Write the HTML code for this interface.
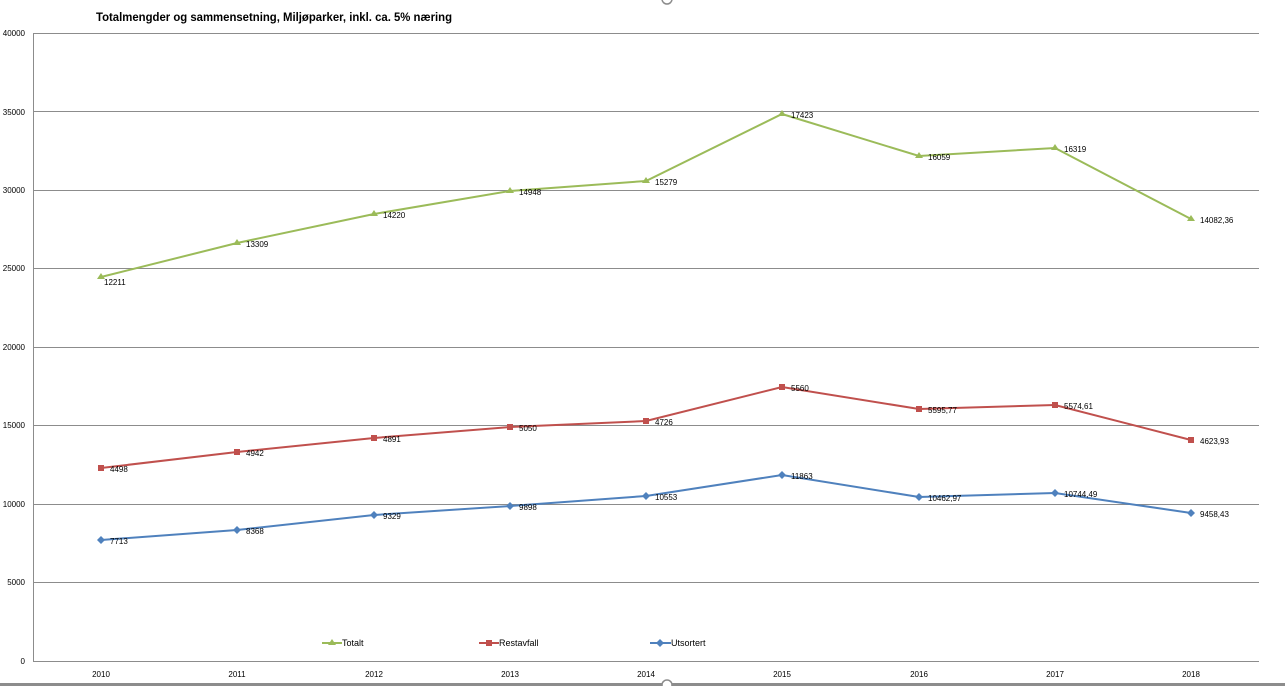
<!DOCTYPE html>
<html><head><meta charset="utf-8"><style>body{margin:0;background:#fff}svg{display:block}text{font-family:"Liberation Sans",sans-serif}</style></head><body>
<svg width="1285" height="686" viewBox="0 0 1285 686">
<text x="96" y="21" font-size="11.5" font-weight="bold" fill="#000" textLength="356" lengthAdjust="spacingAndGlyphs">Totalmengder og sammensetning, Miljøparker, inkl. ca. 5% næring</text>
<g stroke="#8c8c8c" stroke-width="1">
<line x1="33" y1="33.5" x2="1259" y2="33.5"/><line x1="33" y1="111.5" x2="1259" y2="111.5"/><line x1="33" y1="190.5" x2="1259" y2="190.5"/><line x1="33" y1="268.5" x2="1259" y2="268.5"/><line x1="33" y1="347.5" x2="1259" y2="347.5"/><line x1="33" y1="425.5" x2="1259" y2="425.5"/><line x1="33" y1="504.5" x2="1259" y2="504.5"/><line x1="33" y1="582.5" x2="1259" y2="582.5"/><line x1="33" y1="661.5" x2="1259" y2="661.5"/><line x1="33.5" y1="33" x2="33.5" y2="661"/>
</g>
<g font-size="8" fill="#000" text-anchor="end">
<text x="25" y="36">40000</text><text x="25" y="115">35000</text><text x="25" y="193">30000</text><text x="25" y="271">25000</text><text x="25" y="350">20000</text><text x="25" y="428">15000</text><text x="25" y="507">10000</text><text x="25" y="585">5000</text><text x="25" y="664">0</text>
</g>
<g font-size="8" fill="#000" text-anchor="middle">
<text x="101" y="677">2010</text><text x="237" y="677">2011</text><text x="374" y="677">2012</text><text x="510" y="677">2013</text><text x="646" y="677">2014</text><text x="782" y="677">2015</text><text x="919" y="677">2016</text><text x="1055" y="677">2017</text><text x="1191" y="677">2018</text>
</g>
<polyline fill="none" stroke="#9bbb59" stroke-width="2" points="101,277 237,243 374,214 510,191 646,181 782,114 919,156 1055,148 1191,219"/>
<g fill="#9bbb59"><path d="M101,273l4,6h-8z"/><path d="M237,239l4,6h-8z"/><path d="M374,210l4,6h-8z"/><path d="M510,187l4,6h-8z"/><path d="M646,177l4,6h-8z"/><path d="M782,110l4,6h-8z"/><path d="M919,152l4,6h-8z"/><path d="M1055,144l4,6h-8z"/><path d="M1191,215l4,6h-8z"/></g>
<polyline fill="none" stroke="#c0504d" stroke-width="2" points="101,468 237,452 374,438 510,427 646,421 782,387 919,409 1055,405 1191,440"/>
<g fill="#c0504d"><rect x="98" y="465" width="6" height="6"/><rect x="234" y="449" width="6" height="6"/><rect x="371" y="435" width="6" height="6"/><rect x="507" y="424" width="6" height="6"/><rect x="643" y="418" width="6" height="6"/><rect x="779" y="384" width="6" height="6"/><rect x="916" y="406" width="6" height="6"/><rect x="1052" y="402" width="6" height="6"/><rect x="1188" y="437" width="6" height="6"/></g>
<polyline fill="none" stroke="#4f81bd" stroke-width="2" points="101,540 237,530 374,515 510,506 646,496 782,475 919,497 1055,493 1191,513"/>
<g fill="#4f81bd"><path d="M101,536l4,4l-4,4l-4,-4z"/><path d="M237,526l4,4l-4,4l-4,-4z"/><path d="M374,511l4,4l-4,4l-4,-4z"/><path d="M510,502l4,4l-4,4l-4,-4z"/><path d="M646,492l4,4l-4,4l-4,-4z"/><path d="M782,471l4,4l-4,4l-4,-4z"/><path d="M919,493l4,4l-4,4l-4,-4z"/><path d="M1055,489l4,4l-4,4l-4,-4z"/><path d="M1191,509l4,4l-4,4l-4,-4z"/></g>
<g font-size="8" fill="#000">
<text x="104" y="285">12211</text><text x="246" y="247">13309</text><text x="383" y="218">14220</text><text x="519" y="195">14948</text><text x="655" y="185">15279</text><text x="791" y="118">17423</text><text x="928" y="160">16059</text><text x="1064" y="152">16319</text><text x="1200" y="223">14082,36</text>
<text x="110" y="472">4498</text><text x="246" y="456">4942</text><text x="383" y="442">4891</text><text x="519" y="431">5050</text><text x="655" y="425">4726</text><text x="791" y="391">5560</text><text x="928" y="413">5595,77</text><text x="1064" y="409">5574,61</text><text x="1200" y="444">4623,93</text>
<text x="110" y="544">7713</text><text x="246" y="534">8368</text><text x="383" y="519">9329</text><text x="519" y="510">9898</text><text x="655" y="500">10553</text><text x="791" y="479">11863</text><text x="928" y="501">10462,97</text><text x="1064" y="497">10744,49</text><text x="1200" y="517">9458,43</text>
</g>
<g font-size="9" fill="#000">
<line x1="322" y1="643" x2="342" y2="643" stroke="#9bbb59" stroke-width="2"/><path d="M332,639l4,6h-8z" fill="#9bbb59"/><text x="342" y="646">Totalt</text>
<line x1="479" y1="643" x2="499" y2="643" stroke="#c0504d" stroke-width="2"/><rect x="486" y="640" width="6" height="6" fill="#c0504d"/><text x="499" y="646">Restavfall</text>
<line x1="650" y1="643" x2="671" y2="643" stroke="#4f81bd" stroke-width="2"/><path d="M660,639l4,4l-4,4l-4,-4z" fill="#4f81bd"/><text x="671" y="646">Utsortert</text>
</g>
<rect x="0" y="683" width="1285" height="3" fill="#8c8c8c"/>
<circle cx="667" cy="-1" r="5" fill="#fff" stroke="#8c8c8c" stroke-width="1.5"/>
<circle cx="667" cy="685" r="5" fill="#fff" stroke="#8c8c8c" stroke-width="1.5"/>
</svg>
</body></html>
